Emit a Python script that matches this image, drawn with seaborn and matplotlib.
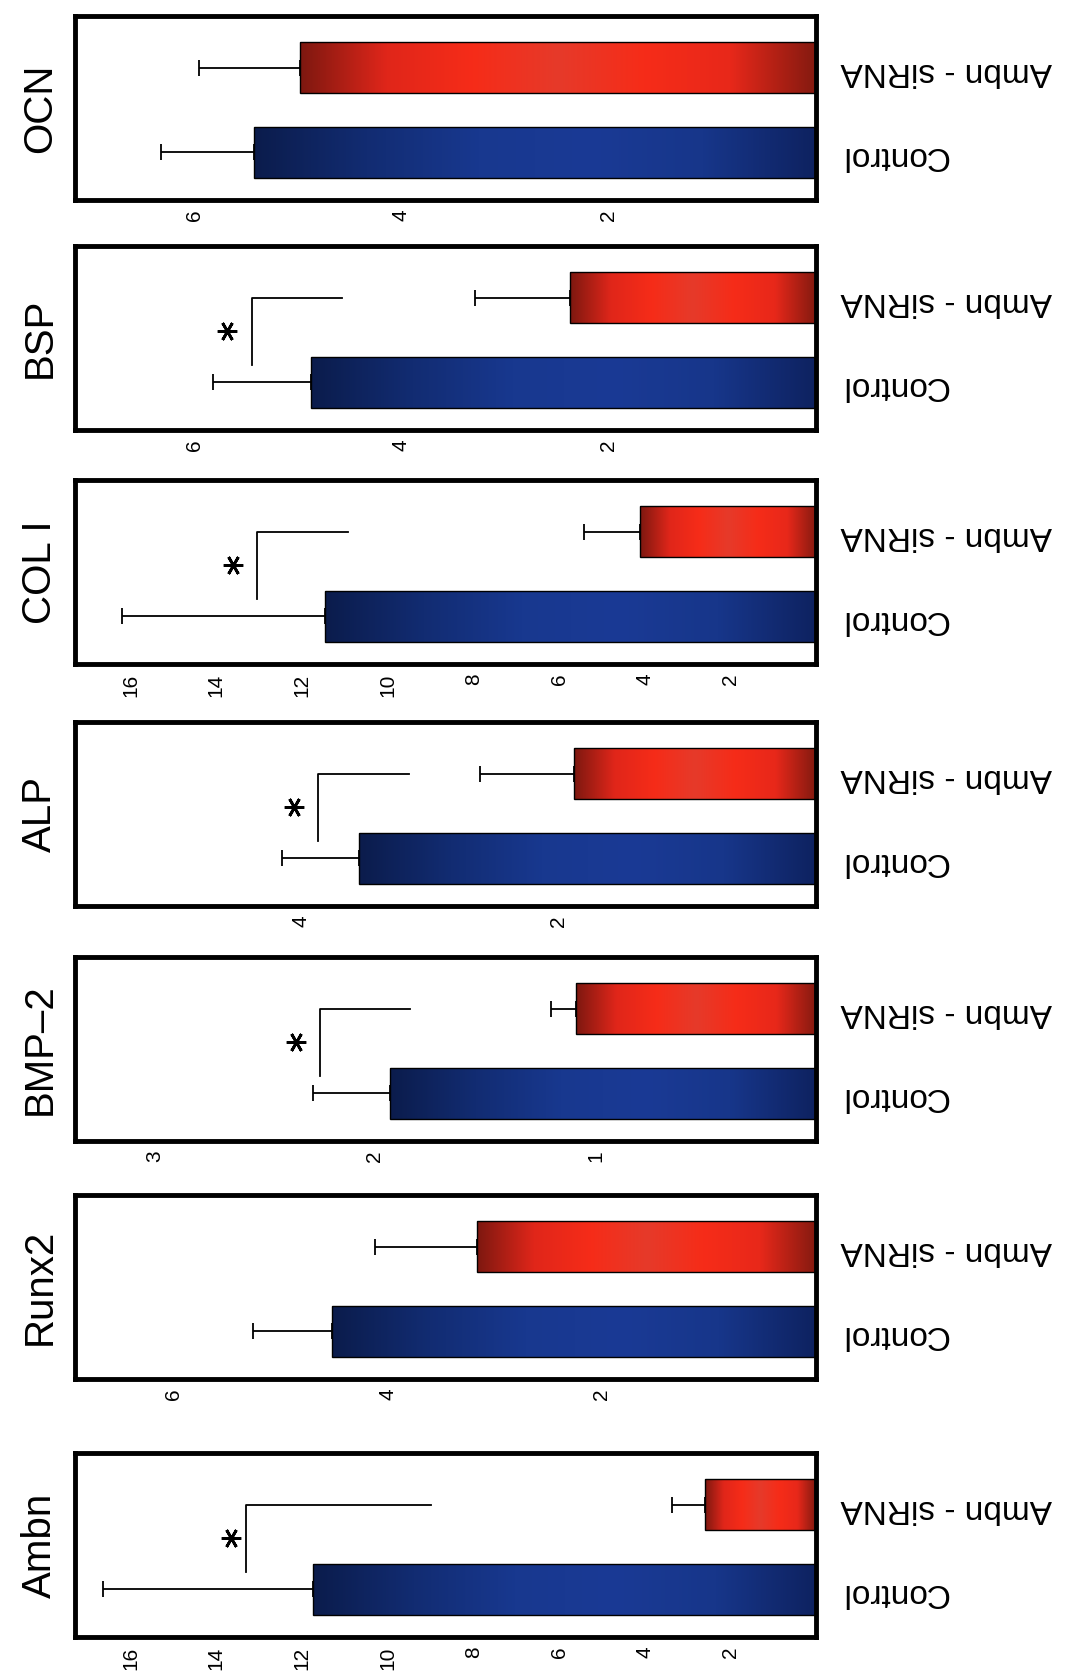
import numpy as np
import pandas as pd
import seaborn as sns
import matplotlib.pyplot as plt
from matplotlib.colors import LinearSegmentedColormap

# Data
genes = ['OCN', 'BSP', 'COL I', 'ALP', 'BMP\u20132', 'Runx2', 'Ambn']
groups = ['Ambn - siRNA', 'Control']
ctrl_mean = [5.42, 4.87, 11.47, 3.55, 1.93, 4.52, 11.75]
ctrl_err = [0.90, 0.95, 4.73, 0.60, 0.35, 0.74, 4.90]
sirna_mean = [4.98, 2.37, 4.11, 1.88, 1.09, 3.17, 2.58]
sirna_err = [0.97, 0.92, 1.30, 0.73, 0.11, 0.95, 0.78]
ax_max = [7.15, 7.15, 17.3, 5.76, 3.36, 6.92, 17.3]
ticks = [[2, 4, 6], [2, 4, 6], [2, 4, 6, 8, 10, 12, 14, 16], [2, 4],
         [1, 2, 3], [2, 4, 6], [2, 4, 6, 8, 10, 12, 14, 16]]
# significance bracket: vertical line value, end of horizontal arm, star value
signif = [None, (5.44, 4.57, 5.68), (13.06, 10.93, 13.6), (3.87, 3.16, 4.06),
          (2.25, 1.84, 2.36), None, (13.3, 9.0, 13.65)]

# layout in pixels
W, H = 1072, 1672
frame_tops = [16, 246, 480, 722, 957, 1195, 1453]
frame_h = 184
frame_left, frame_w = 75, 741

plt.rcParams['font.family'] = ['Liberation Sans', 'DejaVu Sans']

red_cmap = LinearSegmentedColormap.from_list(
    'red', ['#841a10', '#e8281a', '#f62c18', '#e63a2a', '#f62c18', '#e0261a', '#7e1810'])
blue_cmap = LinearSegmentedColormap.from_list(
    'blue', ['#0e2260', '#17368a', '#1a3a95', '#18388f', '#122c72', '#0b1c4c'])
cmaps = {groups[0]: red_cmap, groups[1]: blue_cmap}

fig = plt.figure(figsize=(W / 100, H / 100), dpi=100)
grad = np.linspace(0, 1, 256).reshape(1, -1)

for i, gene in enumerate(genes):
    top = frame_tops[i]
    ax = fig.add_axes([frame_left / W, 1 - (top + frame_h) / H,
                       frame_w / W, frame_h / H])
    df = pd.DataFrame({'group': groups,
                       'value': [sirna_mean[i], ctrl_mean[i]]})
    sns.barplot(data=df, x='value', y='group', hue='group', order=groups,
                hue_order=groups, palette=['#f62c18', '#1a3a95'], orient='h',
                width=0.6, legend=False, errorbar=None, ax=ax,
                edgecolor='black', linewidth=1)

    # gradient fill clipped to each bar
    for p in list(ax.patches):
        idx = int(round(p.get_y() + p.get_height() / 2))
        x0, w = p.get_x(), p.get_width()
        y0, h = p.get_y(), p.get_height()
        im = ax.imshow(grad, cmap=cmaps[groups[idx]], aspect='auto',
                       extent=[x0, x0 + w, y0 + h, y0], zorder=2)
        im.set_clip_path(p)
        p.set_zorder(3)
        p.set_facecolor('none')

    ax.errorbar([sirna_mean[i], ctrl_mean[i]], [0, 1],
                xerr=[[0, 0], [sirna_err[i], ctrl_err[i]]], fmt='none',
                ecolor='black', elinewidth=1.3, capsize=6, capthick=1.3,
                zorder=1)

    if signif[i] is not None:
        xv, xe, xs = signif[i]
        ax.plot([xe, xv, xv], [0, 0, 0.8], color='black', lw=1.3)
        ax.plot(xs, 0.4, marker=(6, 2, 90), ms=14, mew=2.0, color='black')

    ax.set_xlim(ax_max[i], 0)
    ax.set_ylim(1.565, -0.61)
    ax.set_xticks(ticks[i])
    ax.set_xlabel('')
    ax.set_ylabel('')
    ax.yaxis.tick_right()
    ax.tick_params(axis='x', length=0, pad=7, labelsize=15, labelrotation=90)
    ax.tick_params(axis='y', length=0, pad=18, labelsize=24)
    for lbl in ax.get_yticklabels():
        lbl.set_rotation(180)
    for s in ax.spines.values():
        s.set_linewidth(3.5)
        s.set_color('black')
    ax.text(-0.047, 0.5, gene, rotation=90, fontsize=29, ha='center',
            va='center', transform=ax.transAxes)

fig.savefig('out.png', dpi=100, facecolor='white')
